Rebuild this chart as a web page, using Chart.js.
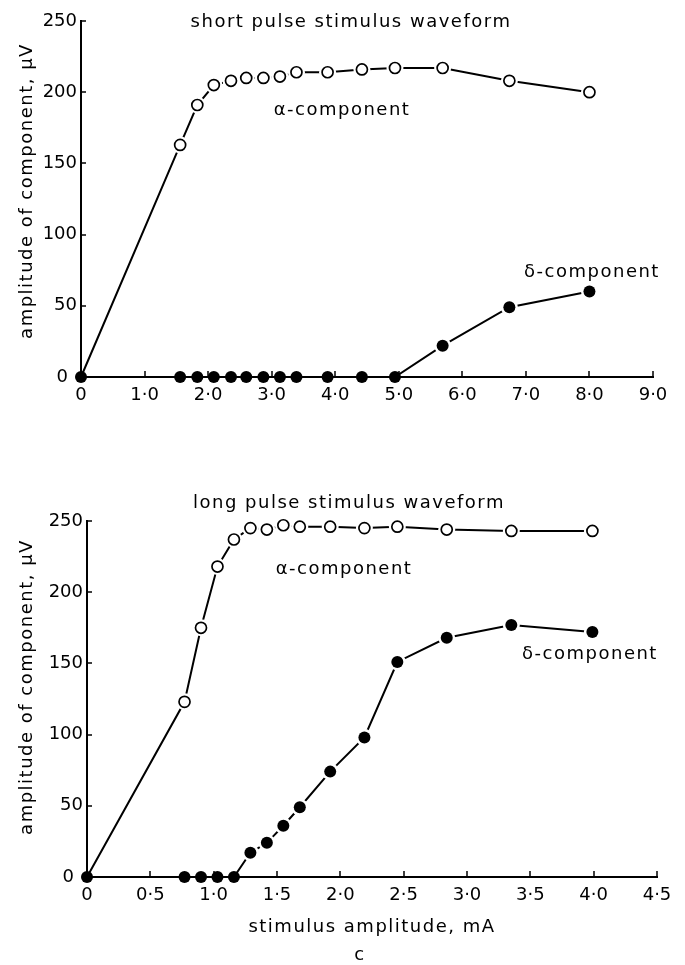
<!DOCTYPE html>
<html>
<head>
<meta charset="utf-8">
<script src="https://cdn.jsdelivr.net/npm/chart.js@4.4.1/dist/chart.umd.min.js"></script>
<style>
    body { margin: 0; background: #fff; }
    #wrap { position: relative; width: 685px; height: 965px; }
    canvas { position: absolute; left: 0; }
    #shortChart { top: 0; }
    #longChart { top: 460px; }
</style>
</head>
<body>
<div id="wrap">
    <canvas id="shortChart" width="685" height="430"></canvas>
    <canvas id="longChart" width="685" height="505"></canvas>
</div>
<script>
// Short pulse stimulus (top panel)
const shortX = [0, 1.56, 1.83, 2.09, 2.36, 2.60, 2.87, 3.13, 3.39, 3.88, 4.42, 4.94, 5.69, 6.74, 8.0];
const shortAlpha = [0, 163, 191, 205, 208, 210, 210, 211, 214, 214, 216, 217, 217, 208, 200];
const shortDelta = [0, 0, 0, 0, 0, 0, 0, 0, 0, 0, 0, 0, 22, 49, 60];
const shortXTicks = [0, 1, 2, 3, 4, 5, 6, 7, 8, 9];

// Long pulse stimulus (bottom panel)
const longX = [0, 0.77, 0.90, 1.03, 1.16, 1.29, 1.42, 1.55, 1.68, 1.92, 2.19, 2.45, 2.84, 3.35, 3.99];
const longAlpha = [0, 123, 175, 218, 237, 245, 244, 247, 246, 246, 245, 246, 244, 243, 243];
const longDelta = [0, 0, 0, 0, 0, 17, 24, 36, 49, 74, 98, 151, 168, 177, 172];
const longXTicks = [0, 0.5, 1, 1.5, 2, 2.5, 3, 3.5, 4, 4.5];

const yTicks = [0, 50, 100, 150, 200, 250];

const FONT = 'DejaVu Sans';
const yTitle = 'amplitude of component, \u03BCV';

// Join x and y lists into points
function pts(xs, ys) {
    return xs.map((x, i) => ({ x: x, y: ys[i] }));
}

// Tick label like 1·0
function fmtTick(v) {
    return v === 0 ? '0' : v.toFixed(1).replace('.', '\u00B7');
}

// Ticks pointing into the plot
const inwardTicks = {
    id: 'inwardTicks',
    beforeDatasetsDraw(chart) {
        const { ctx, chartArea, scales } = chart;
        ctx.save();
        ctx.strokeStyle = '#000';
        ctx.lineWidth = 1.5;
        ctx.beginPath();
        scales.x.ticks.forEach(t => {
            if (t.value === 0) return;
            const px = Math.round(scales.x.getPixelForValue(t.value));
            ctx.moveTo(px, chartArea.bottom);
            ctx.lineTo(px, chartArea.bottom - 6);
        });
        scales.y.ticks.forEach(t => {
            if (t.value === 0) return;
            const py = Math.round(scales.y.getPixelForValue(t.value));
            ctx.moveTo(chartArea.left, py);
            ctx.lineTo(chartArea.left + 5, py);
        });
        ctx.stroke();
        ctx.restore();
    }
};

// Titles and curve labels with some letter spacing
const figText = {
    id: 'figText',
    afterDraw(chart, args, opts) {
        const ctx = chart.ctx;
        ctx.save();
        ctx.fillStyle = '#000';
        ctx.font = '18px "' + FONT + '"';
        ctx.letterSpacing = '1.5px';
        ctx.textAlign = 'center';
        ctx.textBaseline = 'middle';
        (opts.items || []).forEach(it => {
            ctx.save();
            ctx.translate(it.x, it.y);
            if (it.rotate) ctx.rotate(-Math.PI / 2);
            ctx.fillText(it.text, 0, 0);
            ctx.restore();
        });
        ctx.restore();
    }
};

function buildDatasets(xs, alpha, delta) {
    const halo = {
        pointRadius: ctx => (ctx.raw && ctx.raw.y > 0 ? 8.5 : 0),
        pointBackgroundColor: '#fff',
        pointBorderWidth: 0,
        showLine: false,
        clip: false
    };
    return [
        { data: pts(xs, alpha), borderColor: '#000', borderWidth: 2, pointRadius: 0, order: 6, clip: false },
        { data: pts(xs, delta), borderColor: '#000', borderWidth: 2, pointRadius: 0, order: 5, clip: false },
        Object.assign({ data: pts(xs, alpha), order: 4 }, halo),
        Object.assign({ data: pts(xs, delta), order: 3 }, halo),
        {
            data: pts(xs, alpha).slice(1), showLine: false, order: 2, clip: false,
            pointRadius: 5.5, pointBackgroundColor: '#fff', pointBorderColor: '#000', pointBorderWidth: 1.7
        },
        {
            data: pts(xs, delta), showLine: false, order: 1, clip: false,
            pointRadius: 6, pointBackgroundColor: '#000', pointBorderColor: '#000', pointBorderWidth: 0
        }
    ];
}

function setupChart(id, cfg) {
    const ctx = document.getElementById(id);
    return new Chart(ctx, {
        type: 'line',
        data: { datasets: buildDatasets(cfg.xs, cfg.alpha, cfg.delta) },
        options: {
            responsive: false,
            animation: false,
            events: [],
            layout: { padding: cfg.padding },
            plugins: {
                legend: { display: false },
                tooltip: { enabled: false },
                figText: { items: cfg.texts }
            },
            scales: {
                x: {
                    type: 'linear',
                    min: 0,
                    max: cfg.xMax,
                    afterBuildTicks: s => { s.ticks = cfg.xTicks.map(v => ({ value: v })); },
                    afterFit: s => { s.height = cfg.xHeight; },
                    grid: { display: false, drawTicks: false },
                    border: { display: true, color: '#000', width: 2 },
                    ticks: {
                        color: '#000',
                        padding: 8,
                        maxRotation: 0,
                        autoSkip: false,
                        font: { family: FONT, size: 18 },
                        callback: v => fmtTick(v)
                    }
                },
                y: {
                    min: 0,
                    max: 250,
                    afterBuildTicks: s => { s.ticks = yTicks.map(v => ({ value: v })); },
                    afterFit: s => { s.width = cfg.yWidth; },
                    grid: { display: false, drawTicks: false },
                    border: { display: true, color: '#000', width: 2 },
                    ticks: {
                        color: '#000',
                        padding: 4,
                        font: { family: FONT, size: 18 },
                        // keep the 0 clear of the dot at the origin
                        callback: v => (v === 0 ? '0\u2002' : String(v))
                    }
                }
            }
        },
        plugins: [inwardTicks, figText]
    });
}

document.addEventListener('DOMContentLoaded', () => {
    setupChart('shortChart', {
        xs: shortX, alpha: shortAlpha, delta: shortDelta,
        xMax: 9, xTicks: shortXTicks,
        padding: { left: 0, top: 21, right: 32, bottom: 0 },
        yWidth: 81, xHeight: 53,
        texts: [
            { text: 'short pulse stimulus waveform', x: 351, y: 22 },
            { text: '\u03B1-component', x: 342, y: 110 },
            { text: '\u03B4-component', x: 592, y: 272 },
            { text: yTitle, x: 27, y: 191, rotate: true }
        ]
    });
    setupChart('longChart', {
        xs: longX, alpha: longAlpha, delta: longDelta,
        xMax: 4.5, xTicks: longXTicks,
        padding: { left: 0, top: 61, right: 28, bottom: 0 },
        yWidth: 87, xHeight: 88,
        texts: [
            { text: 'long pulse stimulus waveform', x: 349, y: 43 },
            { text: '\u03B1-component', x: 344, y: 109 },
            { text: '\u03B4-component', x: 590, y: 194 },
            { text: yTitle, x: 27, y: 227, rotate: true },
            { text: 'stimulus amplitude, mA', x: 372, y: 467 },
            { text: 'c', x: 360, y: 495 }
        ]
    });
});
</script>
</body>
</html>
